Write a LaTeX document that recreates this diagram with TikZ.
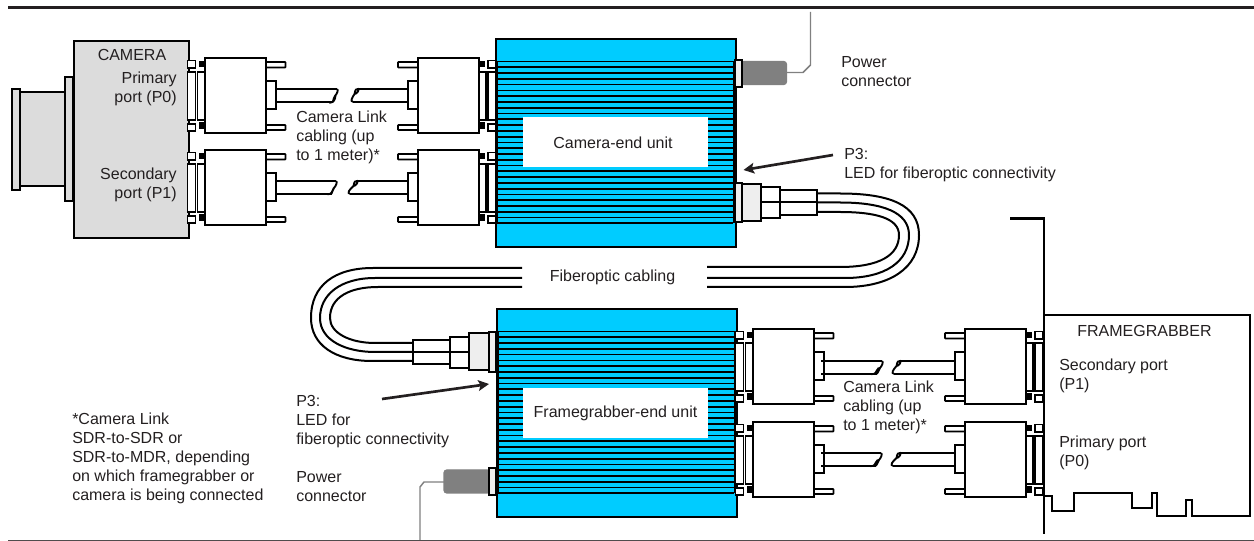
\documentclass[tikz,border=0pt]{standalone}
\usepackage{fontspec}
\setmainfont{Liberation Sans}
\usetikzlibrary{arrows.meta}
\definecolor{unitblue}{HTML}{00CCFF}
\definecolor{camgray}{HTML}{DCDCDC}
\definecolor{lightpart}{HTML}{EEEEEE}
\definecolor{plug}{HTML}{808080}
\definecolor{ink}{HTML}{231F20}
\tikzset{
  part/.style={draw=black,line width=1.5pt,fill=white},
  thinpart/.style={draw=black,line width=1.25pt,fill=white},
  graypart/.style={part,fill=camgray},
  lightp/.style={part,fill=lightpart},
  cableline/.style={draw=black,line width=1.4pt},
  fiberline/.style={draw=black,line width=1.5pt},
  wire/.style={draw=plug,line width=1.1pt},
  plugbody/.style={draw=plug,fill=plug,line width=0.8pt,rounded corners=2pt},
  unitbox/.style={draw=black,line width=1.5pt,fill=unitblue},
  label/.style={inner sep=0pt,font=\fontsize{12}{14.25}\selectfont,text=ink},
  pointer/.style={draw=ink,line width=2pt,-{Stealth[inset=1.6pt,length=8pt,width=8pt]}},
}
% connector: #1 face x, #2 top y of body, #3 direction
\newcommand\dbconn[3]{%
  \begin{scope}[shift={(#1,#2)},xscale=#3]
    \draw[thinpart] (0,2.5) rectangle (8,10);
    \draw[thinpart] (0,66) rectangle (8,73);
    \fill[black] (11.5,3) rectangle (17,9.5);
    \fill[black] (11.5,64.5) rectangle (17,71);
    \draw[thinpart] (0,14) rectangle (8,62);
    \draw[thinpart] (10,14) rectangle (17,62);
    \draw[thinpart,rounded corners=0.5pt] (78,4) rectangle (98,9.5);
    \draw[thinpart,rounded corners=0.5pt] (78,67) rectangle (98,72);
    \draw[part] (78,23) rectangle (88,51);
    \draw[part] (17,0) rectangle (78,75.5);
  \end{scope}}
% cable pieces with break mark
\newcommand\cableL[4]{% x start, top end, bottom end, top y
  \draw[cableline] (#1,#4) -- (#2,#4);
  \draw[cableline] (#1,#4+13) -- (#3,#4+13);
  \draw[cableline] (#2,#4) .. controls (#2+1.5,#4+1) and (#2+0.5,#4+4) .. (#2-2,#4+7)
     .. controls (#2-4,#4+10) and (#2-4,#4+14) .. (#3,#4+13)
     .. controls (#3+2.5,#4+12) and (#3+3.5,#4+6) .. (#2-2,#4+7);}
\newcommand\cableR[4]{% x end, top start, bottom start, top y
  \draw[cableline] (#2,#4) -- (#1,#4);
  \draw[cableline] (#3,#4+13) -- (#1,#4+13);
  \draw[cableline] (#3,#4+13) .. controls (#3-3,#4+12) and (#3-1,#4+9) .. (#2-3.5,#4+5)
     .. controls (#2-3,#4+1) and (#2-1.5,#4-1) .. (#2,#4)
     .. controls (#2+1.5,#4+1) and (#2-1,#4+5) .. (#2-3.5,#4+5);}
% finned body: #1 left x, #2 right x, #3 top y
\newcommand\fins[3]{%
  \foreach \i in {0,...,28} {
    \draw[black,line width=1.3pt] (#1+2,#3+\i*5.78) -- (#2-2.5,#3+\i*5.78);
  }
  \draw[black,line width=2pt] (#1+1.5,#3) -- (#1+1.5,#3+161.8);
  \draw[black,line width=1.8pt] (#2-1,#3) -- (#2-1,#3+161.8);}
\begin{document}
\begin{tikzpicture}[x=0.75pt,y=-0.75pt]
\useasboundingbox (0,0) rectangle (1254,541);
% rules
\draw[draw=ink,line width=2.1pt] (8,7.5) -- (1254,7.5);
\draw[draw=ink!80,line width=1.1pt] (8,540.3) -- (1254,540.3);

% camera
\draw[graypart] (12,89) rectangle (20,190);
\draw[graypart] (20,92.5) rectangle (65,186.5);
\draw[graypart] (65,77) rectangle (72.5,201);
\node[graypart,minimum width=115pt*0.75,minimum height=197pt*0.75,anchor=north west,inner sep=0pt] (camera) at (72.5,40) {};

% camera side connectors and cables
\dbconn{187.5}{58}{1}
\dbconn{187.5}{150}{1}
\dbconn{496}{58}{-1}
\dbconn{496}{150}{-1}
\cableL{275}{337}{332.5}{89}
\cableL{275}{336}{330}{181}
\cableR{408}{358}{353}{89}
\cableR{408}{357}{350}{181}

% upper unit
\node[unitbox,minimum width=180pt,minimum height=156pt,anchor=north west,inner sep=0pt] (camunit) at (495,38.5) {};
\fins{495}{735}{61.5}
\node[fill=white,minimum width=138.75pt,minimum height=37.5pt,inner sep=0pt] (camlabel) at (615.5,142) {};
\node[label] (camtext) at (613,143) {Camera-end unit};

% upper power connector
\coordinate (pwrA) at (787,72.5);
\coordinate (pwrAb) at (803,72.5);
\coordinate (pwrAc) at (810.5,65);
\coordinate (pwrAd) at (810.5,12);
\draw[wire] (pwrA) -- (pwrAb) -- (pwrAc) -- (pwrAd);
\draw[plugbody] (741,61.5) rectangle (786.5,84.5);
\draw[lightp] (735,60) rectangle (741.5,87);

% upper fiber
\draw[fiberline] (817,193.5) -- (840,193.5) .. controls (890,193.5) and (919,205) .. (919,235) .. controls (919,268) and (890,287) .. (845,287) -- (707,287);
\draw[fiberline] (817,202.5) -- (840,202.5) .. controls (882,202.5) and (909,212) .. (909,235) .. controls (909,262) and (885,278) .. (845,278) -- (707,278);
\draw[fiberline] (817,212) -- (840,212) .. controls (875,212) and (899,218) .. (899,235) .. controls (899,255) and (880,267) .. (840,267) -- (707,267);
\draw[part] (780,190) rectangle (817,215);
\draw[part] (761,187) rectangle (780,218);
\draw[fiberline] (761,202.5) -- (817,202.5);
\draw[lightp] (741,184) rectangle (761,221);
\draw[lightp] (735,183) rectangle (741.5,222.5);

% lower fiber
\draw[fiberline] (522,268) -- (373,268) .. controls (335,268) and (311,285) .. (311,318) .. controls (311,345) and (335,361) .. (372,361) -- (413,361);
\draw[fiberline] (522,278) -- (375,278) .. controls (340,278) and (320,295) .. (320,318) .. controls (320,340) and (345,352) .. (375,352) -- (413,352);
\draw[fiberline] (522,287) -- (378,287) .. controls (350,287) and (330,297) .. (330,318) .. controls (330,333) and (350,343) .. (375,343) -- (413,343);
\draw[part] (413,340) rectangle (450,364.5);
\draw[part] (450,337) rectangle (469,368);
\draw[fiberline] (413,352) -- (469,352);
\draw[lightp] (469,333.5) rectangle (489.5,370);

% lower unit
\node[unitbox,minimum width=180pt,minimum height=156pt,anchor=north west,inner sep=0pt] (fgunit) at (496,308.5) {};
\fins{496}{736}{331.5}
\node[fill=white,minimum width=138.75pt,minimum height=37.5pt,inner sep=0pt] (fglabel) at (615.5,413) {};
\node[label] (fgtext) at (615.5,413.5) {Framegrabber-end unit};
\draw[lightp] (489,332.5) rectangle (496,372);

% lower power connector
\coordinate (pwrB) at (444,482);
\coordinate (pwrBb) at (424,482);
\coordinate (pwrBc) at (420,487);
\coordinate (pwrBd) at (420,540);
\draw[wire] (pwrB) -- (pwrBb) -- (pwrBc) -- (pwrBd);
\draw[plugbody] (444,470) rectangle (490,493);
\draw[lightp] (489,468.5) rectangle (496,495);

% framegrabber board
\draw[black,line width=1.4pt] (1044,315) -- (1250,315) -- (1250,516) -- (1192,516) -- (1192,500) -- (1186,500) -- (1186,516) -- (1157,516) -- (1157,493) -- (1152,493) -- (1152,508) -- (1132,508) -- (1132,493) -- (1074,493) -- (1074,511) -- (1052,511) -- (1052,496) -- (1044,496);
\draw[black,line width=1.6pt] (1010,218.5) -- (1044,218.5) -- (1044,534);

% framegrabber side connectors and cables
\dbconn{735.5}{329}{1}
\dbconn{735.5}{422}{1}
\dbconn{1043}{329}{-1}
\dbconn{1043}{422}{-1}
\cableL{821}{882}{874}{361}
\cableL{821}{881}{873}{453}
\cableR{954}{900}{894}{361}
\cableR{954}{900}{893}{453}

% pointers
\coordinate (ledA) at (833,155);
\coordinate (ledAend) at (743.5,170);
\coordinate (ledB) at (382,399);
\coordinate (ledBend) at (489,384);
\draw[pointer] (ledA) -- (ledAend);
\draw[pointer] (ledB) -- (ledBend);

% labels
\node[label] (t1) at (132,55) {CAMERA};
\node[label,align=right,anchor=east] (t2) at (177,88.5) {Primary\\port (P0)};
\node[label,align=right,anchor=east] (t3) at (177,184.5) {Secondary\\port (P1)};
\node[label,align=left,anchor=west] (t4) at (296,137.5) {Camera Link\\cabling (up\\to 1 meter)*};
\node[label,align=left,anchor=west] (t5) at (841,72) {Power\\connector};
\node[label,align=left,anchor=west] (t6) at (844,165) {P3:\\LED for fiberoptic connectivity};
\node[label] (t7) at (612.5,277) {Fiberoptic cabling};
\node[label,align=left,anchor=west] (t8) at (296,422) {P3:\\LED for\\fiberoptic connectivity};
\node[label,align=left,anchor=west] (t9) at (296,486.5) {Power\\connector};
\node[label,align=left,anchor=west] (t10) at (72,458.5) {*Camera Link\\SDR-to-SDR or\\SDR-to-MDR, depending\\on which framegrabber or\\camera is being connected};
\node[label] (t11) at (1144.5,331) {FRAMEGRABBER};
\node[label,align=left,anchor=west] (t12) at (1059,375.5) {Secondary port\\(P1)};
\node[label,align=left,anchor=west] (t13) at (1059,452.5) {Primary port\\(P0)};
\node[label,align=left,anchor=west] (t14) at (843,407.5) {Camera Link\\cabling (up\\to 1 meter)*};
\end{tikzpicture}
\end{document}
